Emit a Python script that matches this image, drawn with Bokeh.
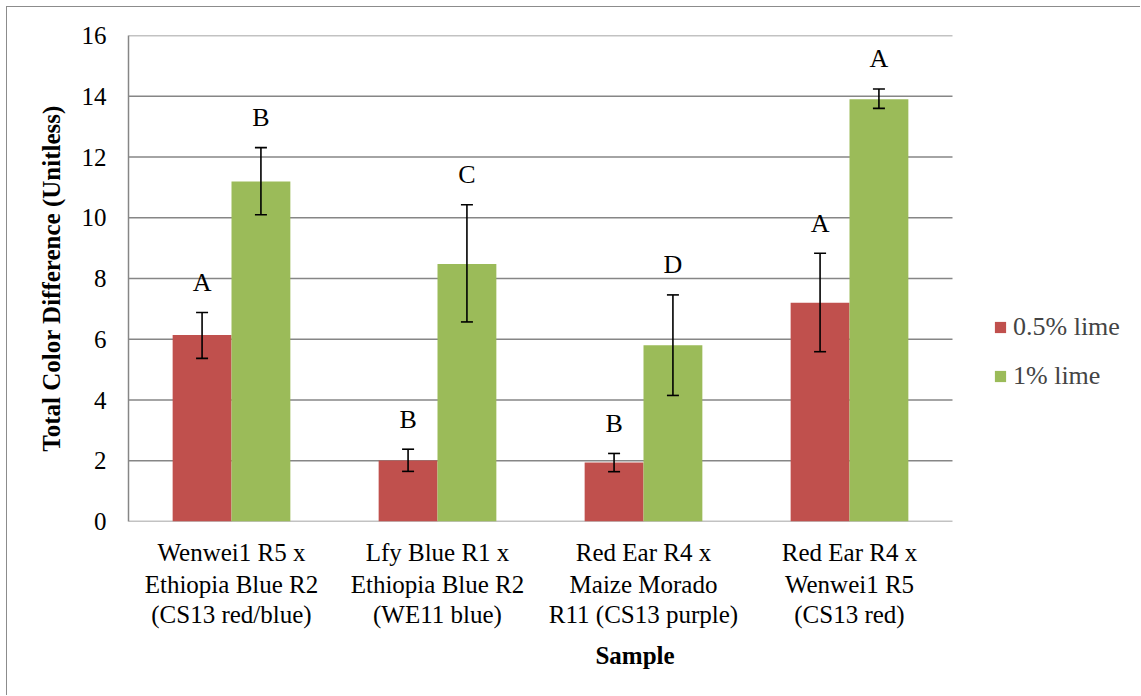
from bokeh.plotting import figure
from bokeh.models import (ColumnDataSource, Whisker, TeeHead, Legend,
                          LegendItem, FixedTicker, Range1d, LinearAxis)
from bokeh.transform import dodge
from bokeh.core.properties import value
from bokeh.embed import file_html
from bokeh.resources import INLINE

# ---- data ----
categories = [
    "Wenwei1 R5 x\nEthiopia Blue R2\n(CS13 red/blue)",
    "Lfy Blue R1 x\nEthiopia Blue R2\n(WE11 blue)",
    "Red Ear R4 x\nMaize Morado\nR11 (CS13 purple)",
    "Red Ear R4 x\nWenwei1 R5\n(CS13 red)",
]
series_names = ["0.5% lime", "1% lime"]
lime05 = [6.14, 2.01, 1.94, 7.20]
lime05_low = [5.37, 1.65, 1.64, 5.59]
lime05_high = [6.88, 2.38, 2.24, 8.83]
lime05_letters = ["A", "B", "B", "A"]
lime1 = [11.19, 8.48, 5.80, 13.90]
lime1_low = [10.10, 6.57, 4.15, 13.60]
lime1_high = [12.31, 10.43, 7.46, 14.24]
lime1_letters = ["B", "C", "D", "A"]
y_ticks = [0, 2, 4, 6, 8, 10, 12, 14, 16]

RED = "#C0504D"
GREEN = "#9BBB59"
GRID = "#868686"
FONT = "Liberation Serif"

xs = list(range(len(categories)))
src05 = ColumnDataSource(dict(x=xs, val=lime05, lo=lime05_low, hi=lime05_high, lab=lime05_letters))
src1 = ColumnDataSource(dict(x=xs, val=lime1, lo=lime1_low, hi=lime1_high, lab=lime1_letters))

OFF = 7  # outer page frame offset
W, H = 1141 - OFF, 696 - OFF
left_b, top_b, bottom_b = 128 - OFF, 35 - OFF, 175
frame_w = W - left_b
cat_px = (952 - 128) / len(categories)
x_lo = -0.5
x_hi = x_lo + frame_w / cat_px

p = figure(width=W, height=H, x_range=Range1d(x_lo, x_hi), y_range=Range1d(0, 16),
           output_backend="svg", toolbar_location=None, x_axis_location=None,
           min_border_left=left_b, min_border_right=0, min_border_top=top_b,
           min_border_bottom=bottom_b)
p.styles = {"margin-left": f"{OFF - 1}px", "margin-top": f"{OFF - 1}px",
            "border-left": "1.5px solid #8c8c8c", "border-top": "1.5px solid #8c8c8c"}
p.background_fill_color = "white"
p.border_fill_color = "white"
p.outline_line_color = None

# gridlines limited to the category span
p.segment(x0=x_lo, x1=len(categories) - 0.5, y0=y_ticks, y1=y_ticks,
          line_color=GRID, line_width=1.5)

bw = 0.2857
off = bw / 2
r05 = p.vbar(x=dodge("x", -off), top="val", width=bw, source=src05,
             fill_color=RED, line_color=None)
r1 = p.vbar(x=dodge("x", off), top="val", width=bw, source=src1,
            fill_color=GREEN, line_color=None)

for src, d in ((src05, -off), (src1, off)):
    w = Whisker(base=dodge("x", d), upper="hi", lower="lo", source=src,
                line_color="black", line_width=1.6, level="overlay",
                upper_head=TeeHead(size=12, line_color="black", line_width=1.6),
                lower_head=TeeHead(size=12, line_color="black", line_width=1.6))
    p.add_layout(w)
    p.text(x=dodge("x", d), y="hi", text="lab", source=src,
           y_offset=-30, text_align="center", text_baseline="middle",
           text_font=value(FONT), text_font_size="26px", text_color="black")

# y axis
p.yaxis.ticker = FixedTicker(ticks=y_ticks)
p.yaxis.major_tick_line_color = None
p.yaxis.minor_tick_line_color = None
p.yaxis.major_tick_out = 0
p.yaxis.axis_line_color = GRID
p.yaxis.axis_line_width = 1.5
p.yaxis.major_label_text_font = FONT
p.yaxis.major_label_text_font_size = "25px"
p.yaxis.major_label_text_color = "black"
p.yaxis.major_label_standoff = 22
p.yaxis.axis_label = "Total Color Difference (Unitless)"
p.yaxis.axis_label_text_font = FONT
p.yaxis.axis_label_text_font_style = "bold"
p.yaxis.axis_label_text_font_size = "25px"
p.yaxis.axis_label_text_color = "black"
p.yaxis.axis_label_standoff = 14

# x axis: one single-line axis per label line, stacked below the frame
lines = [c.split("\n") for c in categories]
standoffs = [17, 2, 0]
for k in range(3):
    ax = LinearAxis(ticker=FixedTicker(ticks=xs),
                    major_label_overrides={i: lines[i][k] for i in xs},
                    axis_line_color=None, major_tick_line_color=None,
                    minor_tick_line_color=None, major_tick_out=0, major_tick_in=0,
                    major_label_text_font=FONT, major_label_text_font_size="25px",
                    major_label_text_color="black", major_label_standoff=standoffs[k])
    if k == 2:
        ax.axis_label = "Sample"
        ax.axis_label_text_font = FONT
        ax.axis_label_text_font_style = "bold"
        ax.axis_label_text_font_size = "25px"
        ax.axis_label_text_color = "black"
        ax.axis_label_standoff = 11
    p.add_layout(ax, "below")

p.xgrid.grid_line_color = None
p.ygrid.grid_line_color = None

legend = Legend(items=[LegendItem(label=series_names[0], renderers=[r05]),
                       LegendItem(label=series_names[1], renderers=[r1])],
                location=(865, 130), padding=0, margin=0, spacing=19,
                glyph_width=14, glyph_height=14, label_height=20, label_standoff=6,
                label_text_font=FONT, label_text_font_size="26px",
                border_line_color=None, background_fill_alpha=0)
p.add_layout(legend)

open("out.html", "w").write(file_html(p, INLINE))
